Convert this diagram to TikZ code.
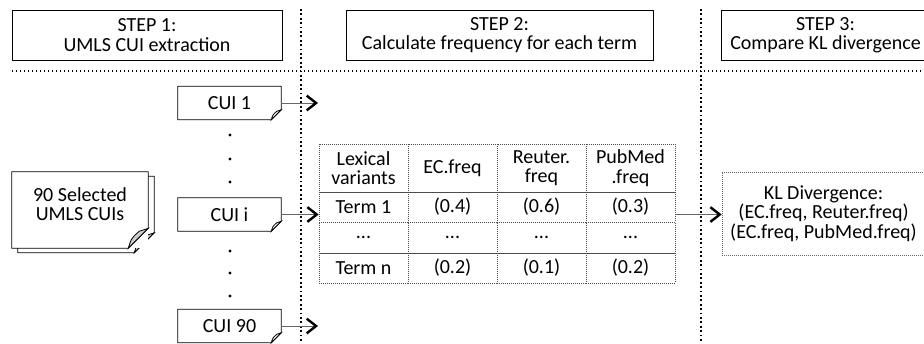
\documentclass[tikz,border=0pt]{standalone}
\usepackage{fontspec}
\setmainfont{Carlito}
\usetikzlibrary{arrows.meta,positioning,calc}

% page outline with a curled bottom-right corner
\newcommand{\pagefold}[3]{% node, fold size, flap fill
  \draw[pageline] (#1.north west) -- (#1.north east) -- ([yshift=#2]#1.south east)
    -- ([xshift=-#2]#1.south east) -- (#1.south west) -- cycle;
  \draw[pageline, fill=#3] ([xshift=-#2]#1.south east)
    .. controls ([xshift=-0.85*#2, yshift=0.5*#2]#1.south east) .. ([xshift=-0.45*#2, yshift=0.85*#2]#1.south east)
    -- ([yshift=#2]#1.south east) -- cycle;
}

\begin{document}
\begin{tikzpicture}
[x=0.75pt, y=-0.75pt, font=\fontsize{15}{14.5}\selectfont,
stepbox/.style={rectangle, draw, line width=0.6pt, align=center, inner sep=0pt, minimum height=50*0.75pt},
cui/.style={rectangle, inner sep=0pt, minimum width=103*0.75pt, minimum height=33*0.75pt},
pageline/.style={line width=0.6pt},
cell/.style={rectangle, draw=black!70, densely dotted, line width=0.5pt, align=center, inner sep=0pt, minimum width=89*0.75pt},
klbox/.style={rectangle, draw=black!60, densely dotted, line width=0.5pt, align=center, inner sep=0pt, minimum width=203*0.75pt, minimum height=83*0.75pt},
divider/.style={line width=1.3pt, dotted},
flow/.style={draw=black!60, line width=0.7pt, -{Straight Barb[length=7pt, width=11pt, line width=1.8pt, black]}}]

\useasboundingbox (0,0) rectangle (924,343);

% step headers
\node[stepbox, minimum width=270*0.75pt] (step1) at (147,35) {STEP 1:\\UMLS CUI extraction};
\node[stepbox, minimum width=307*0.75pt] (step2) at (499.5,35) {STEP 2:\\Calculate frequency for each term};
\node[stepbox, minimum width=209*0.75pt] (step3) at (825.5,35) {STEP 3:\\Compare KL divergence};

% column separators
\draw[divider] (301,9) -- (301,343);
\draw[divider] (701,9) -- (701,343);
\draw[line width=1pt, dotted] (12,71) -- (924,71);

% selected concepts (stacked pages)
\node[cui, minimum width=136*0.75pt, minimum height=76*0.75pt] (selback) at (86,214.5) {};
\fill[white] (selback.south west) rectangle (selback.north east);
\pagefold{selback}{15pt}{black!20}
\node[cui, minimum width=136*0.75pt, minimum height=76*0.75pt] (sel) at (80,210) {};
\fill[white] (sel.south west) rectangle (sel.north east);
\pagefold{sel}{15pt}{black!20}
\node[align=center] (seltext) at (80,204) {90 Selected\\UMLS CUIs};

% extracted CUIs
\node[cui] (cui1) at (229.5,103) {CUI 1};
\node[cui] (cuii) at (229.5,214.5) {CUI i};
\node[cui] (cui90) at (229.5,326) {CUI 90};
\foreach \n in {cui1,cuii,cui90} {
  \pagefold{\n}{7.5pt}{white}
}
\foreach \y in {135,159,182,251,273,296} {
  \fill (230,\y) circle (1.2pt);
}

% frequency table
\foreach \c/\x in {1/363.5, 2/452.5, 3/541.5, 4/630.5} {
  \node[cell, minimum height=48*0.75pt] (t0\c) at (\x,168) {};
  \node[cell, minimum height=30*0.75pt] (t1\c) at (\x,207) {};
  \node[cell, minimum height=31*0.75pt] (t2\c) at (\x,237.5) {};
  \node[cell, minimum height=30*0.75pt] (t3\c) at (\x,268) {};
}
\node[align=center] at (t01) {Lexical\\variants};
\node at (t02) {EC.freq};
\node[align=center] at (t03) {Reuter.\\freq};
\node[align=center] at (t04) {PubMed\\.freq};
\node at (t11) {Term 1};
\node at (t12) {(0.4)};
\node at (t13) {(0.6)};
\node at (t14) {(0.3)};
\foreach \c in {1,...,4} {
  \node at (t2\c) {...};
}
\node at (t31) {Term n};
\node at (t32) {(0.2)};
\node at (t33) {(0.1)};
\node at (t34) {(0.2)};

% divergence box
\node[klbox] (kl) at (823.5,213.5) {KL Divergence:\\(EC.freq, Reuter.freq)\\(EC.freq, PubMed.freq)};

% arrows
\coordinate (end1) at (318,103);
\coordinate (end90) at (318,326);
\draw[flow] (cui1.east) -- (end1);
\draw[flow] (cuii.east) -- (cuii.east -| t11.west);
\draw[flow] (cui90.east) -- (end90);
\draw[flow] (t14.east |- cuii.east) -- (kl.west |- cuii.east);

\end{tikzpicture}
\end{document}
